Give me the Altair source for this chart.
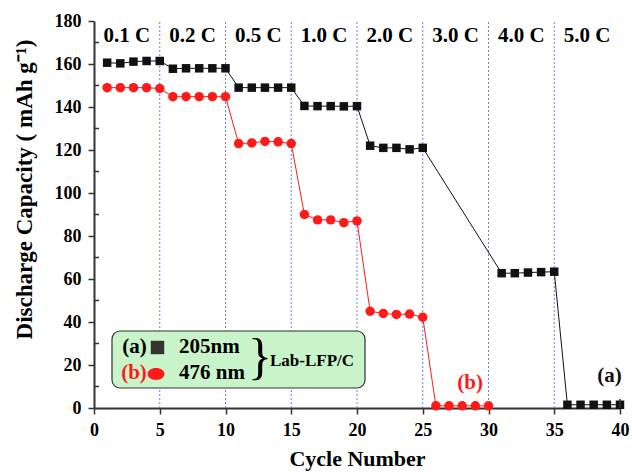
import altair as alt
import pandas as pd

# Cycle numbers and discharge capacities (mAh/g) of the two Lab-LFP/C samples
cycles = list(range(1, 41))
cap_205nm = [160.6, 160.3, 161.1, 161.4, 161.4,
             157.8, 158.0, 158.0, 158.0, 158.0,
             149.0, 149.0, 149.0, 149.0, 149.0,
             140.5, 140.4, 140.4, 140.3, 140.4,
             122.0, 121.0, 121.0, 120.3, 121.0,
             None, None, None, None, None,
             62.7, 62.7, 63.0, 63.2, 63.4,
             1.5, 1.5, 1.5, 1.5, 1.5]
cap_476nm = [149.0, 149.0, 149.0, 149.0, 148.6,
             144.8, 144.8, 144.8, 144.8, 144.8,
             123.0, 123.3, 124.0, 123.8, 123.0,
             90.0, 87.5, 87.5, 86.2, 87.0,
             45.0, 44.0, 43.5, 43.7, 42.2,
             1.0, 1.0, 1.0, 1.0, 1.0,
             None, None, None, None, None,
             None, None, None, None, None]

# C-rate steps (5 cycles each)
rate_labels = ["0.1 C", "0.2 C", "0.5 C", "1.0 C", "2.0 C", "3.0 C", "4.0 C", "5.0 C"]
rate_bounds = [5, 10, 15, 20, 25, 30, 35]
rate_mids = [2.5, 7.5, 12.5, 17.5, 22.5, 27.5, 32.5, 37.5]
rate_label_y = 172.8

x_ticks = [0, 5, 10, 15, 20, 25, 30, 35, 40]
y_ticks = [0, 20, 40, 60, 80, 100, 120, 140, 160, 180]
y_minor = [10, 30, 50, 70, 90, 110, 130, 150, 170]

FONT = "Liberation Serif"
W, H = 526, 387
X_TITLE = "Cycle Number"
Y_TITLE = "Discharge Capacity ( mAh g⁻¹)"

rows = []
for c, a, b in zip(cycles, cap_205nm, cap_476nm):
    if a is not None:
        rows.append({"cycle": c, "cap": a, "series": "a"})
    if b is not None:
        rows.append({"cycle": c, "cap": b, "series": "b"})
df = pd.DataFrame(rows)

xs = alt.Scale(domain=[0, 40], nice=False)
ys = alt.Scale(domain=[0, 180], nice=False)
series_colors = alt.Scale(domain=["a", "b"], range=["#111111", "#ff1a1a"])

x_axis = alt.Axis(values=x_ticks, grid=False, domainColor="#333333", domainWidth=2,
                  tickColor="#333333", tickWidth=1.5, tickSize=6,
                  labelFont=FONT, labelFontSize=18, labelFontWeight="bold", labelColor="black",
                  labelPadding=7, labelFlush=False,
                  titleFont=FONT, titleFontSize=22, titleFontWeight="bold", titleColor="black",
                  titleY=50, titleBaseline="middle")
y_axis = alt.Axis(values=y_ticks, grid=False, domainColor="#333333", domainWidth=2,
                  tickColor="#333333", tickWidth=1.5, tickSize=6,
                  labelFont=FONT, labelFontSize=18, labelFontWeight="bold", labelColor="black",
                  labelPadding=7, labelFlush=False,
                  titleFont=FONT, titleFontSize=23, titleFontWeight="bold", titleColor="black",
                  titleAngle=270, titleX=-70, titleY=168, titleAlign="center", titleBaseline="middle")


def X(field="cycle:Q"):
    return alt.X(field, scale=xs, axis=x_axis, title=X_TITLE)


def Y(field="cap:Q"):
    return alt.Y(field, scale=ys, axis=y_axis, title=Y_TITLE)


base = alt.Chart(df)

lines = base.mark_line(strokeWidth=1).encode(
    x=X(), y=Y(),
    color=alt.Color("series:N", scale=series_colors, legend=None),
    detail="series:N",
)

points = base.mark_point(filled=True, opacity=1).encode(
    x=X(), y=Y(),
    color=alt.Color("series:N", scale=series_colors, legend=None),
    shape=alt.Shape("series:N", scale=alt.Scale(domain=["a", "b"], range=["square", "circle"]), legend=None),
    size=alt.Size("series:N", scale=alt.Scale(domain=["a", "b"], range=[72, 90]), legend=None),
)

# dotted separators between rate steps
sep = alt.Chart(pd.DataFrame({"cycle": rate_bounds, "lo": 0, "hi": 180})).mark_rule(
    color="#7474ff", strokeDash=[2, 2], strokeWidth=1
).encode(x=X(), y=alt.Y("lo:Q", scale=ys, axis=y_axis, title=Y_TITLE), y2="hi:Q")

rates = alt.Chart(pd.DataFrame({"cycle": rate_mids, "cap": rate_label_y, "label": rate_labels})).mark_text(
    font=FONT, fontSize=21, fontWeight="bold", color="black"
).encode(x=X(), y=Y(), text="label:N")

# inward minor ticks on the capacity axis
minor = alt.Chart(pd.DataFrame({"cap": y_minor})).mark_rule(color="#333333", strokeWidth=1.5).encode(
    y=Y(), x=alt.value(0), x2=alt.value(5),
)

end_tick = alt.Chart(pd.DataFrame({"cycle": [40]})).mark_rule(color="#333333", strokeWidth=1.5).encode(
    x=X(), y=alt.value(H - 9), y2=alt.value(H),
)

series_tags = alt.Chart(pd.DataFrame({
    "cycle": [28.6, 39.2], "cap": [11.8, 15.0], "tag": ["(b)", "(a)"], "series": ["b", "a"]
})).mark_text(font=FONT, fontSize=21, fontWeight="bold").encode(
    x=X(), y=Y(), text="tag:N",
    color=alt.Color("series:N", scale=series_colors, legend=None),
)

one = pd.DataFrame({"k": [0]})

box = alt.Chart(one).mark_rect(
    fill="#c9f3c9", stroke="#333333", strokeWidth=1.2, cornerRadius=8
).encode(x=alt.value(18), x2=alt.value(271), y=alt.value(310), y2=alt.value(367))


def label(txt, x, y, size=21, col="black", align="center", weight="bold"):
    return alt.Chart(one).mark_text(
        text=txt, font=FONT, fontSize=size, fontWeight=weight, color=col, align=align, baseline="middle"
    ).encode(x=alt.value(x), y=alt.value(y))


key_a = alt.Chart(one).mark_point(shape="square", filled=True, opacity=1, size=180, color="#333333").encode(
    x=alt.value(63.5), y=alt.value(326.5))
key_b = alt.Chart(one).mark_point(
    shape="M-1,0A1,0.7,0,1,1,1,0A1,0.7,0,1,1,-1,0Z", filled=True, opacity=1, size=289, color="#ff1a1a"
).encode(x=alt.value(62), y=alt.value(353))

legend_layers = [
    box,
    label("(a)", 40.5, 326),
    key_a,
    label("205nm", 85, 326, align="left"),
    label("(b)", 40, 352, col="#ff1a1a"),
    key_b,
    label("476 nm", 85, 352, align="left"),
    label("}", 166, 337, size=50, weight="normal"),
    label("Lab-LFP/C", 176, 340, size=17, align="left"),
]

chart = alt.layer(
    sep, lines, points, rates, minor, end_tick, series_tags, *legend_layers
).properties(
    width=W, height=H,
    padding={"left": 94, "top": 21, "right": 12, "bottom": 64},
    autosize=alt.AutoSizeParams(type="none"),
    background="white",
).configure_view(stroke=None)

chart.save("out.html", embed_options={"renderer": "svg", "actions": False})
